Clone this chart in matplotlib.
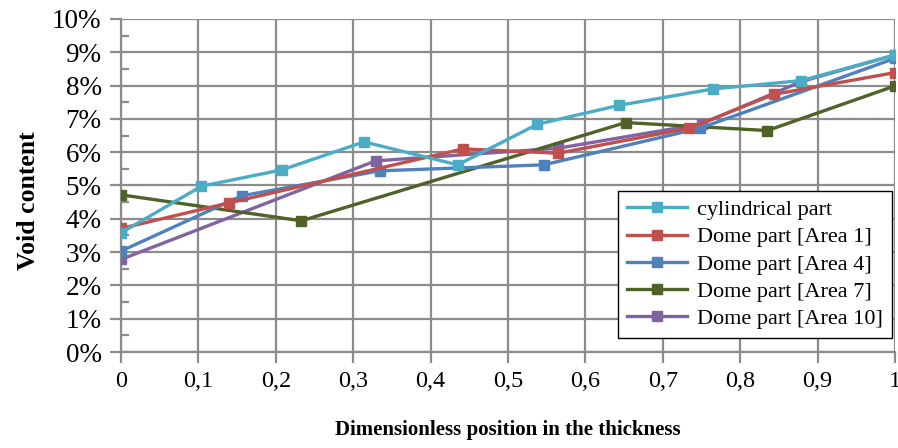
import numpy as np
import matplotlib.pyplot as plt
from matplotlib.ticker import MultipleLocator, FuncFormatter

# valeurs (taux de vide en %)
x_cyl = [0, 0.104, 0.208, 0.314, 0.435, 0.538, 0.644, 0.765, 0.879, 1]
y_cyl = [3.58, 4.98, 5.47, 6.31, 5.62, 6.84, 7.41, 7.90, 8.15, 8.92]

x_a1 = [0, 0.140, 0.442, 0.565, 0.734, 0.844, 1]
y_a1 = [3.71, 4.48, 6.10, 5.97, 6.72, 7.74, 8.39]

x_a4 = [0, 0.156, 0.334, 0.546, 0.748, 1]
y_a4 = [3.03, 4.69, 5.44, 5.62, 6.72, 8.82]

x_a7 = [0, 0.233, 0.652, 0.835, 1]
y_a7 = [4.72, 3.94, 6.89, 6.65, 7.99]

x_a10 = [0, 0.329, 0.565, 0.75, 0.879, 1]
y_a10 = [2.78, 5.74, 6.12, 6.85, 8.12, 8.92]

labels = ["cylindrical part", "Dome part [Area 1]", "Dome part [Area 4]",
          "Dome part [Area 7]", "Dome part [Area 10]"]
colors = ["#4BACC6", "#C0504D", "#4F81BD", "#4F6228", "#8064A2"]

plt.rcParams['font.family'] = ['Liberation Serif', 'DejaVu Serif']

fig = plt.figure(figsize=(8.98, 4.48), dpi=100)
ax = fig.add_axes([121/898, 1-352/448, (895-121)/898, (352-19)/448])

series = [(x_cyl, y_cyl), (x_a1, y_a1), (x_a4, y_a4), (x_a7, y_a7), (x_a10, y_a10)]
zord = [10, 9, 8, 7, 6]
for (xs, ys), lab, c, z in zip(series, labels, colors, zord):
    ax.plot(xs, ys, color=c, lw=2.4, marker='s', markersize=6.5,
            label=lab, zorder=z, solid_joinstyle='round')

ax.set_xlim(0, 1)
ax.set_ylim(0, 10)
ax.xaxis.set_major_locator(MultipleLocator(0.1))
ax.yaxis.set_major_locator(MultipleLocator(1))
ax.yaxis.set_minor_locator(MultipleLocator(0.5))
ax.xaxis.set_major_formatter(FuncFormatter(lambda v, p: ("%g" % round(v, 1)).replace('.', ',')))
ax.yaxis.set_major_formatter(FuncFormatter(lambda v, p: "%d%%" % round(v)))

grid_c = "#8c8c8c"
ax.grid(True, which='major', color=grid_c, lw=1.6)
for s in ['top', 'right']:
    ax.spines[s].set_visible(False)
for s in ['left', 'bottom']:
    ax.spines[s].set_color(grid_c)
    ax.spines[s].set_linewidth(1.6)
ax.tick_params(axis='both', which='major', color=grid_c, width=1.6, length=8)
ax.tick_params(axis='y', which='major', labelsize=19.5, pad=6)
ax.tick_params(axis='x', which='major', labelsize=17.5, pad=6)
ax.tick_params(axis='y', which='minor', direction='in', color=grid_c, width=1.6, length=6)
ax.tick_params(axis='x', which='minor', length=0)
ax.set_axisbelow(True)

ax.set_ylabel("Void content", fontsize=18.5, fontweight='bold')
ax.yaxis.set_label_coords(-0.105, 0.453)
ax.set_xlabel("Dimensionless position in the thickness", fontsize=15,
              fontweight='bold', labelpad=20)

leg = ax.legend(loc='lower right', bbox_to_anchor=(892/898, 1-338/448),
                bbox_transform=fig.transFigure, borderaxespad=0, fontsize=16,
                fancybox=False, framealpha=1, edgecolor='black',
                handlelength=2.7, handletextpad=0.45, labelspacing=0.3,
                borderpad=0.4)
leg.get_frame().set_linewidth(1.0)
leg.set_zorder(20)

fig.savefig("out.png", dpi=100)
